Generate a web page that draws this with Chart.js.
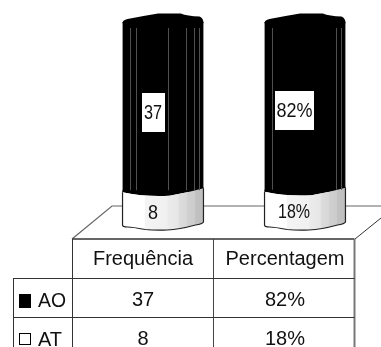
<!DOCTYPE html>
<html>
<head>
<meta charset="utf-8">
<style>
  html, body { margin: 0; padding: 0; background: #fff; overflow: hidden; }
  #wrap { width: 381px; height: 347px; }
</style>
<script src="https://cdn.jsdelivr.net/npm/chart.js@4"></script>
</head>
<body>
<div id="wrap"><canvas id="my-chart" width="381" height="347"></canvas></div>
<script>
const categories = ['Frequência', 'Percentagem'];
const aoValues = [37, 82];
const atValues = [8, 18];
const aoLabels = ['37', '82%'];
const atLabels = ['8', '18%'];
const seriesNames = ['AO', 'AT'];
const totals = [45, 100];

// each column is stacked to 100
const aoShare = aoValues.map((v, i) => v / totals[i] * 100);
const atShare = atValues.map((v, i) => v / totals[i] * 100);

const font = '20px "Liberation Sans", Arial, sans-serif';
const streaks = [[0.09, 0.17, 0.56, 0.79, 0.88, 0.95], [0.09, 0.88, 0.95]];
const barBoxes = [[142, 93, 23, 39], [275, 91, 39, 39]];
const barText = [[153, 113, 18, 153, 213, 10], [294.5, 111, 36, 294, 212, 32]];

function line(ctx, pts, color, width) {
  ctx.beginPath();
  pts.forEach((p, i) => (i ? ctx.lineTo(p[0], p[1]) : ctx.moveTo(p[0], p[1])));
  ctx.strokeStyle = color;
  ctx.lineWidth = width;
  ctx.stroke();
}

// floor of the 3d box, behind the cylinders
const floorPlugin = {
  id: 'floor',
  beforeDatasetsDraw(chart) {
    const ctx = chart.ctx;
    ctx.save();
    line(ctx, [[72, 239], [112, 206], [381, 206]], '#666', 1.2);
    line(ctx, [[355, 239], [381, 218]], '#333', 1);
    ctx.restore();
  }
};

// rounds the ends of the bars into cylinders and adds the shading
const cylinderPlugin = {
  id: 'cylinder',
  afterDatasetsDraw(chart) {
    const ctx = chart.ctx;
    const upper = chart.getDatasetMeta(1).data;
    const lower = chart.getDatasetMeta(0).data;
    ctx.save();
    upper.forEach((bar, i) => {
      const l = bar.x - bar.width / 2;
      const r = bar.x + bar.width / 2;
      const w = bar.width;
      const low = lower[i];

      // top cap
      ctx.beginPath();
      ctx.moveTo(l, bar.y + 1);
      ctx.quadraticCurveTo(l, bar.y - 2, l + 5, bar.y - 3);
      ctx.quadraticCurveTo(l + w * 0.25, bar.y - 6, l + w * 0.44, bar.y - 8.5);
      ctx.lineTo(l + w * 0.72, bar.y - 8.5);
      ctx.quadraticCurveTo(l + w * 0.8, bar.y - 6, r - 4, bar.y - 5.5);
      ctx.quadraticCurveTo(r, bar.y - 4, r, bar.y + 1);
      ctx.closePath();
      ctx.fillStyle = '#000';
      ctx.fill();

      // black rim dipping into the lower section
      const rim = () => {
        ctx.quadraticCurveTo(l + w * 0.3, low.y + 5, l + w * 0.58, low.y + 3.5);
        ctx.quadraticCurveTo(l + w * 0.8, low.y + 0.5, r, low.y - 4);
      };
      ctx.beginPath();
      ctx.moveTo(l, low.y);
      rim();
      ctx.lineTo(r, low.y - 7);
      ctx.lineTo(l, low.y - 7);
      ctx.closePath();
      ctx.fillStyle = '#000';
      ctx.fill();

      // lower section, shaded in bands from left to right
      const grad = ctx.createLinearGradient(l, 0, r, 0);
      [[0, '#fff'], [0.27, '#fff'], [0.28, '#f4f4f4'], [0.55, '#f0f0f0'], [0.56, '#ebebeb'],
       [0.69, '#e6e6e6'], [0.7, '#dcdcdc'], [0.79, '#d8d8d8'], [0.8, '#d0d0d0'],
       [0.89, '#cccccc'], [0.9, '#c2c2c2'], [1, '#bdbdbd']].forEach(s => grad.addColorStop(s[0], s[1]));
      ctx.beginPath();
      ctx.moveTo(l, low.y);
      rim();
      ctx.lineTo(r, low.base - 7);
      ctx.quadraticCurveTo(r - 1, low.base - 5, r - 8, low.base - 4);
      ctx.quadraticCurveTo(l + w * 0.7, low.base + 0.5, l + w * 0.55, low.base + 1);
      ctx.quadraticCurveTo(l + w * 0.4, low.base + 1.5, l + w * 0.28, low.base + 0.5);
      ctx.quadraticCurveTo(l + w * 0.12, low.base - 2, l + 5, low.base - 2);
      ctx.quadraticCurveTo(l, low.base - 2, l, low.base - 4);
      ctx.closePath();
      ctx.fillStyle = grad;
      ctx.fill();
      ctx.beginPath();
      ctx.moveTo(l, low.y);
      ctx.lineTo(l, low.base - 4);
      ctx.quadraticCurveTo(l, low.base - 2, l + 5, low.base - 2);
      ctx.quadraticCurveTo(l + w * 0.12, low.base - 2, l + w * 0.28, low.base + 0.5);
      ctx.quadraticCurveTo(l + w * 0.4, low.base + 1.5, l + w * 0.55, low.base + 1);
      ctx.quadraticCurveTo(l + w * 0.7, low.base + 0.5, r - 8, low.base - 4);
      ctx.quadraticCurveTo(r - 1, low.base - 5, r, low.base - 7);
      ctx.lineTo(r, low.y - 4);
      ctx.strokeStyle = '#222';
      ctx.lineWidth = 1.2;
      ctx.stroke();

      // facet streaks along the black body, light edges on its sides
      streaks[i].forEach(f => {
        const x = Math.round(l + w * f) + 0.5;
        line(ctx, [[x, bar.y + 6], [x, low.y - 2]], '#505050', 1);
      });
      line(ctx, [[l, bar.y + 2], [l, low.y - 2]], '#999', 1);
      line(ctx, [[r, bar.y + 2], [r, low.y - 5]], '#999', 1);

      // value labels, narrowed to fit the column
      const box = barBoxes[i];
      const t = barText[i];
      ctx.fillStyle = '#fff';
      ctx.fillRect(box[0], box[1], box[2], box[3]);
      ctx.font = font;
      ctx.textAlign = 'center';
      ctx.textBaseline = 'middle';
      ctx.fillStyle = '#111';
      ctx.fillText(aoLabels[i], t[0], t[1], t[2]);
      ctx.fillText(atLabels[i], t[3], t[4], t[5]);
    });
    ctx.restore();
  }
};

// data table under the plot, with the legend keys in the first column
const tablePlugin = {
  id: 'dataTable',
  afterDraw(chart) {
    const ctx = chart.ctx;
    const xs = [72.5, 213.5, 354.5];
    const ys = [239, 278.5, 317.5];
    ctx.save();
    line(ctx, [[xs[0], ys[0]], [xs[2], ys[0]]], '#333', 1.5);
    line(ctx, [[xs[0], ys[0]], [xs[0], 347]], '#333', 1);
    line(ctx, [[xs[1], ys[0]], [xs[1], 347]], '#444', 1);
    line(ctx, [[xs[2], ys[0]], [xs[2], 347]], '#777', 2);
    line(ctx, [[13.5, ys[1]], [13.5, 347]], '#333', 1);
    line(ctx, [[13, ys[1]], [xs[2], ys[1]]], '#333', 1);
    line(ctx, [[13, ys[2]], [xs[2], ys[2]]], '#333', 1);

    ctx.font = font;
    ctx.fillStyle = '#111';
    ctx.textBaseline = 'middle';
    ctx.textAlign = 'center';
    const mids = [143, 285];
    categories.forEach((c, i) => {
      ctx.fillText(c, mids[i], 259);
      ctx.fillText(aoLabels[i], mids[i], 300);
      ctx.fillText(atLabels[i], mids[i], 339);
    });
    ctx.textAlign = 'left';
    ctx.fillText(seriesNames[0], 38, 301, 28);
    ctx.fillText(seriesNames[1], 38, 340, 26);
    ctx.fillStyle = '#000';
    ctx.fillRect(19, 294, 12, 14);
    ctx.strokeStyle = '#000';
    ctx.lineWidth = 1;
    ctx.strokeRect(19.5, 333.5, 11, 11);
    ctx.restore();
  }
};

const ctx = document.getElementById('my-chart').getContext('2d');
const chart = new Chart(ctx, {
  type: 'bar',
  data: {
    labels: categories,
    datasets: [
      { label: seriesNames[1], data: atShare, backgroundColor: '#fff' },
      { label: seriesNames[0], data: aoShare, backgroundColor: '#000' }
    ]
  },
  options: {
    responsive: false,
    animation: false,
    layout: { padding: { left: 92, right: 5, top: 22, bottom: 118 } },
    barPercentage: 0.57,
    categoryPercentage: 1,
    plugins: { legend: { display: false }, tooltip: { enabled: false } },
    scales: {
      x: { stacked: true, display: false },
      y: { stacked: true, display: false, min: 0, max: 100 }
    }
  },
  plugins: [floorPlugin, cylinderPlugin, tablePlugin]
});
</script>
</body>
</html>
